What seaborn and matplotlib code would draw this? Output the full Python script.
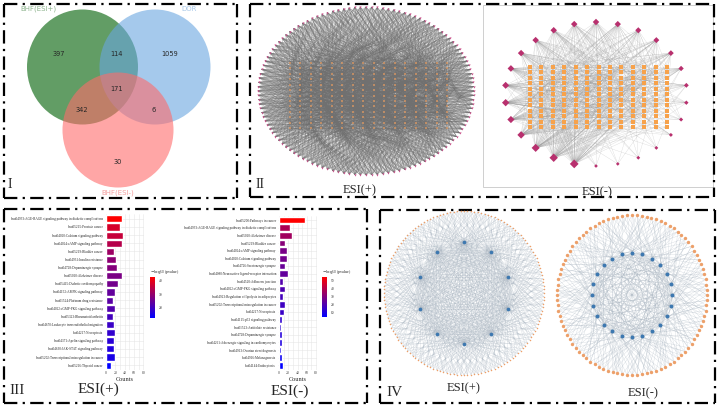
import matplotlib
matplotlib.use("Agg")
import matplotlib.pyplot as plt
import seaborn as sns
import pandas as pd
import numpy as np
from matplotlib.patches import Ellipse, Rectangle
from matplotlib.collections import LineCollection
from matplotlib.colors import LinearSegmentedColormap, Normalize
from matplotlib.cm import ScalarMappable

W, H = 719, 407

# ---------------- data ----------------
venn_names = ["BHF(ESI+)", "DOR", "BHF(ESI-)"]
venn_regions = ["100", "110", "010", "111", "101", "011", "001"]
venn_values = [397, 114, 1059, 171, 342, 6, 30]

plus_terms = [
    "hsa04933:AGE-RAGE signaling pathway in diabetic complications",
    "hsa05215:Prostate cancer",
    "hsa04020:Calcium signaling pathway",
    "hsa04024:cAMP signaling pathway",
    "hsa05219:Bladder cancer",
    "hsa04931:Insulin resistance",
    "hsa04728:Dopaminergic synapse",
    "hsa05010:Alzheimer disease",
    "hsa05415:Diabetic cardiomyopathy",
    "hsa04152:AMPK signaling pathway",
    "hsa01524:Platinum drug resistance",
    "hsa04022:cGMP-PKG signaling pathway",
    "hsa05323:Rheumatoid arthritis",
    "hsa04670:Leukocyte transendothelial migration",
    "hsa04217:Necroptosis",
    "hsa04371:Apelin signaling pathway",
    "hsa04630:JAK-STAT signaling pathway",
    "hsa05202:Transcriptional misregulation in cancer",
    "hsa05216:Thyroid cancer",
]
plus_counts = [34, 30, 37, 34, 17, 22, 23, 34, 26, 19, 16, 20, 16, 17, 19, 18, 18, 19, 11]
plus_logp = [43, 38, 36, 34, 31, 29, 28, 27, 26, 24, 23, 22, 20, 19, 18, 17, 16, 15, 12]

minus_terms = [
    "hsa05200:Pathways in cancer",
    "hsa04933:AGE-RAGE signaling pathway in diabetic complications",
    "hsa05010:Alzheimer disease",
    "hsa05219:Bladder cancer",
    "hsa04024:cAMP signaling pathway",
    "hsa04020:Calcium signaling pathway",
    "hsa04726:Serotonergic synapse",
    "hsa04080:Neuroactive ligand-receptor interaction",
    "hsa04520:Adherens junction",
    "hsa04022:cGMP-PKG signaling pathway",
    "hsa04923:Regulation of lipolysis in adipocytes",
    "hsa05202:Transcriptional misregulation in cancer",
    "hsa04217:Necroptosis",
    "hsa04115:p53 signaling pathway",
    "hsa01523:Antifolate resistance",
    "hsa04728:Dopaminergic synapse",
    "hsa04261:Adrenergic signaling in cardiomyocytes",
    "hsa04913:Ovarian steroidogenesis",
    "hsa04916:Melanogenesis",
    "hsa04144:Endocytosis",
]
minus_counts = [56, 23, 28, 12, 18, 17, 12, 19, 9, 12, 8, 12, 10, 7, 4, 7, 7, 5, 6, 9]
minus_logp = [54, 38, 36, 31, 28, 27, 25, 24, 21, 20, 18, 17, 16, 14, 13, 12, 11, 9, 7, 5]

# network sizes (panel II and IV)
n2p_outer = 120
n2p_cols, n2p_rows = 16, 13
n2p_degree = 22
n2m_hub_degree = [30, 28, 25, 24, 22, 18, 14, 10, 8, 7, 6, 6, 5,
                  5, 60, 55, 50, 42, 38, 40, 36, 32, 30, 30, 30, 30]
n2m_cols, n2m_rows = 13, 12
n4p_outer, n4p_inner = 144, 10
n4m_outer, n4m_inner = 96, 24
n4_links = 4

# ---------------- helpers ----------------
sns.set_style("white")
plt.rcParams["font.family"] = ["Liberation Serif", "DejaVu Serif"]

fig = plt.figure(figsize=(W / 100, H / 100), dpi=100)
ov = fig.add_axes([0, 0, 1, 1])
ov.set_xlim(0, W)
ov.set_ylim(H, 0)
ov.axis("off")


def px(x0, y0, x1, y1):
    return [x0 / W, 1 - y1 / H, (x1 - x0) / W, (y1 - y0) / H]


def ring(cx, cy, rx, ry, n, start=-np.pi / 2):
    t = start + 2 * np.pi * np.arange(n) / n
    return np.c_[cx + rx * np.cos(t), cy + ry * np.sin(t)]


def grid(x0, x1, y0, y1, ncol, nrow):
    gx, gy = np.meshgrid(np.linspace(x0, x1, ncol), np.linspace(y0, y1, nrow))
    return np.c_[gx.ravel(), gy.ravel()]


def dashdot(xs, ys):
    ov.plot(xs, ys, color="black", lw=1.6, dashes=(6, 2.4, 1, 2.4),
            solid_capstyle="butt", dash_capstyle="butt")


def box(x0, y0, x1, y1):
    dashdot([x0, x1], [y0, y0])
    dashdot([x0, x1], [y1, y1])
    dashdot([x0, x0], [y0, y1])
    dashdot([x1, x1], [y0, y1])


# ---------------- panel borders ----------------
box(4, 4, 237, 198)
box(250, 4, 714, 197)
box(4, 209, 367, 403)
box(380, 210, 715, 403)

# ---------------- I: venn ----------------
venn_circles = [((82.5, 67), "#2e7d32", 0.75), ((155, 67), "#6aa6e0", 0.6), ((118, 130), "#ff6b6b", 0.6)]
for (c, col, a) in venn_circles:
    ov.add_patch(Ellipse(c, 111, 115, facecolor=col, alpha=a, edgecolor="none", zorder=1))
region_pos = {"100": (59, 54), "110": (117, 54), "010": (170, 54), "111": (117, 89),
              "101": (82, 110), "011": (154, 110), "001": (118, 162)}
for r, v in zip(venn_regions, venn_values):
    ov.text(*region_pos[r], str(v), fontsize=4.8, ha="center", va="center",
            family="DejaVu Sans", zorder=3)
for name, pos, col in zip(venn_names, [(38, 9), (189, 9), (118, 193)],
                          ["#8fb58f", "#a8c8e8", "#f4a0a0"]):
    ov.text(*pos, name, fontsize=5, ha="center", va="center", color=col,
            family="DejaVu Sans", zorder=3)
ov.text(8, 184, "I", fontsize=10, ha="left", va="center")

# ---------------- II: compound-target networks ----------------
outer = ring(366, 91, 108, 84, n2p_outer)
inner = grid(290, 447, 63, 128, n2p_cols, n2p_rows)
segs = []
for i, p in enumerate(outer):
    for k in range(n2p_degree):
        j = (i * 37 + k * 53) % len(inner)
        segs.append([p, inner[j]])
ov.add_collection(LineCollection(segs, colors="#707070", linewidths=0.25, alpha=0.5, zorder=2))
ov.scatter(inner[:, 0], inner[:, 1], s=1.5, marker="s", color="#f0a060", lw=0, zorder=3, alpha=0.6)
ov.scatter(outer[:, 0], outer[:, 1], s=2.5, marker="v", color="#c8508a", lw=0, zorder=3)

ov.add_patch(Rectangle((483, 5), 230, 182, fill=False, edgecolor="#c8c8c8", lw=0.6, zorder=1))
hubs = ring(596, 94, 91, 72, len(n2m_hub_degree))
inner = grid(530, 667, 67, 127, n2m_cols, n2m_rows)
segs = []
for i, (p, d) in enumerate(zip(hubs, n2m_hub_degree)):
    for k in range(d):
        j = (i * 29 + k * 41) % len(inner)
        segs.append([p, inner[j]])
ov.add_collection(LineCollection(segs, colors="#9a9a9a", linewidths=0.22, alpha=0.45, zorder=2))
ov.scatter(inner[:, 0], inner[:, 1], s=7, marker="s", color="#f7a24b", lw=0, zorder=3)
ov.scatter(hubs[:, 0], hubs[:, 1], s=[2 + 0.3 * d for d in n2m_hub_degree], marker="D",
           color="#b8306e", lw=0, zorder=3)
ov.text(360, 190, "ESI(+)", fontsize=9, ha="center", va="center")
ov.text(597, 192, "ESI(-)", fontsize=9, ha="center", va="center")
ov.text(256, 185, "II", fontsize=10, ha="left", va="center")


# ---------------- IV: target-pathway networks ----------------
def star_net(cx, cy, rx, ry, n_out, irx, iry, n_in, s_out, s_in):
    o = ring(cx, cy, rx, ry, n_out)
    c = ring(cx, cy, irx, iry, n_in)
    segs = []
    for i, p in enumerate(o):
        for k in range(n4_links):
            segs.append([p, c[(i * 7 + k * (n_in // 3 + 1)) % n_in]])
    ov.add_collection(LineCollection(segs, colors="#a8b4c0", linewidths=0.25, alpha=0.55, zorder=2))
    ov.scatter(o[:, 0], o[:, 1], s=s_out, color="#eda06a", lw=0, zorder=3)
    ov.scatter(c[:, 0], c[:, 1], s=s_in, color="#3d78b0", lw=0, zorder=3)


star_net(464, 293, 80, 82, n4p_outer, 46, 51, n4p_inner, 1.2, 7)
star_net(632, 295, 75, 80, n4m_outer, 40, 42, n4m_inner, 6, 8)
ov.text(464, 388, "ESI(+)", fontsize=9, ha="center", va="center")
ov.text(643, 393, "ESI(-)", fontsize=9, ha="center", va="center")
ov.text(386, 392, "IV", fontsize=11, ha="left", va="center")

# ---------------- III: KEGG bar charts ----------------
cmap = LinearSegmentedColormap.from_list("bp", ["blue", "red"])


def bar_panel(rect, terms, counts, logp, cax_rect, cticks, xlim):
    ax = fig.add_axes(px(*rect))
    df = pd.DataFrame({"Term": terms, "Counts": counts, "logp": logp})
    norm = Normalize(min(logp), max(logp))
    pal = {t: cmap(norm(v)) for t, v in zip(terms, logp)}
    sns.barplot(data=df, x="Counts", y="Term", hue="Term", palette=pal, legend=False,
                width=0.88, saturation=1, ax=ax)
    ax.set_xlim(*xlim)
    ax.set_ylim(len(terms) - 0.4, -0.6)
    ax.set_xticks([0, 20, 40, 60, 80])
    ax.set_xticks([10, 30, 50, 70], minor=True)
    ax.grid(True, which="both", color="#e6e6e6", lw=0.4)
    ax.set_axisbelow(True)
    for s in ax.spines.values():
        s.set_visible(False)
    ax.tick_params(axis="y", labelsize=2.4, length=1, width=0.3, pad=0.5, color="#555555")
    ax.tick_params(axis="x", labelsize=2.8, length=0, pad=1, labelcolor="#444444")
    ax.tick_params(axis="x", which="minor", length=0)
    ax.set_ylabel("")
    ax.set_xlabel("Counts", fontsize=4.5, labelpad=1)
    cax = fig.add_axes(px(*cax_rect))
    cb = fig.colorbar(ScalarMappable(norm=norm, cmap=cmap), cax=cax)
    cb.outline.set_visible(False)
    cb.set_ticks(cticks)
    cb.ax.tick_params(labelsize=2.6, length=1.5, width=0.4, color="white", pad=1)
    cax.set_title(r"$-\log_{10}$(pvalue)", fontsize=3, loc="left", pad=3)


bar_panel((105, 214, 144, 370), plus_terms, plus_counts, plus_logp,
          (150, 277, 155, 318), [20, 30, 40], (-2, 81.5))
bar_panel((278, 215.5, 317.3, 370), minus_terms, minus_counts, minus_logp,
          (322, 277, 327, 317), [10, 20, 30, 40, 50], (-2, 82.5))
ov.text(98, 389, "ESI(+)", fontsize=11, ha="center", va="center")
ov.text(290, 391, "ESI(-)", fontsize=11, ha="center", va="center")
ov.text(9, 390, "III", fontsize=11, ha="left", va="center")

fig.savefig("out.png", dpi=100)
